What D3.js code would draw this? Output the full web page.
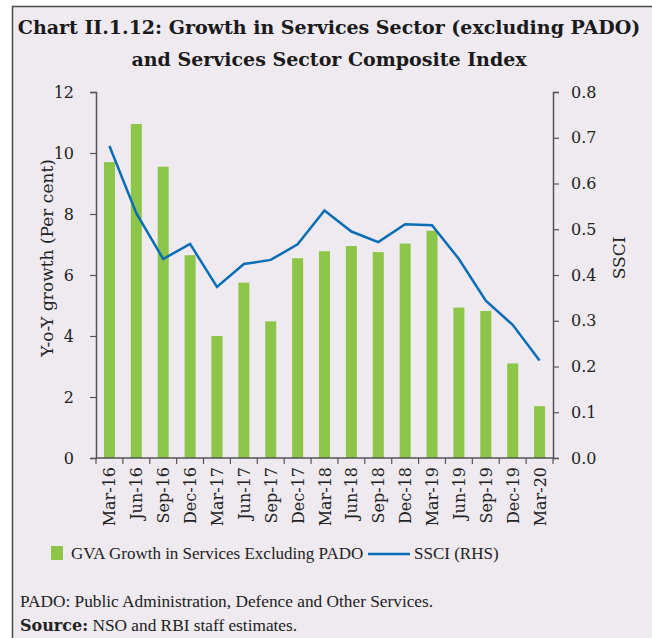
<!DOCTYPE html>
<html>
<head>
<meta charset="utf-8">
<script src="https://cdn.jsdelivr.net/npm/d3@7"></script>
<style>
  body { margin: 0; background: #fff; }
  svg { display: block; }
</style>
</head>
<body>
<script>
// quarters on the x axis
var quarters = ["Mar-16","Jun-16","Sep-16","Dec-16","Mar-17","Jun-17","Sep-17","Dec-17",
                "Mar-18","Jun-18","Sep-18","Dec-18","Mar-19","Jun-19","Sep-19","Dec-19","Mar-20"];
// GVA growth in services excl. PADO (per cent, LHS)
var gvaGrowth = [9.7, 10.95, 9.55, 6.65, 4.0, 5.75, 4.48, 6.55, 6.78, 6.95, 6.75, 7.03, 7.45, 4.93, 4.82, 3.1, 1.7];
// services sector composite index (RHS)
var ssci = [0.682, 0.535, 0.435, 0.468, 0.374, 0.424, 0.433, 0.467, 0.541, 0.495, 0.472, 0.511, 0.509, 0.435, 0.344, 0.291, 0.213];
var leftTicks = [0, 2, 4, 6, 8, 10, 12];
var rightTicks = [0, 0.1, 0.2, 0.3, 0.4, 0.5, 0.6, 0.7, 0.8];

var width = 652, height = 638;
var m = {left: 96, right: 553, top: 92, bottom: 458};
var serif = "'DejaVu Serif', serif";
var times = "'Liberation Serif', serif";

var svg = d3.select("body").append("svg")
  .attr("width", width).attr("height", height);

// panel
svg.append("rect")
  .attr("x", 12.5).attr("y", 6.5)
  .attr("width", width).attr("height", height)
  .attr("fill", "#eeeaf0")
  .attr("stroke", "#4a4a4a").attr("stroke-width", 1.5);

// title
svg.append("text").attr("x", 329).attr("y", 34)
  .attr("text-anchor", "middle")
  .style("font", "bold 19px " + serif).attr("fill", "#1a1a1a")
  .text("Chart II.1.12: Growth in Services Sector (excluding PADO)");
svg.append("text").attr("x", 329).attr("y", 66)
  .attr("text-anchor", "middle")
  .style("font", "bold 19px " + serif).attr("fill", "#1a1a1a")
  .text("and Services Sector Composite Index");

var xb = d3.scaleBand().domain(quarters).range([m.left, m.right]);
var y = d3.scaleLinear().domain([0, 12]).range([m.bottom, m.top]);
var y2 = d3.scaleLinear().domain([0, 0.8]).range([m.bottom, m.top]);

// bars
svg.append("g").selectAll("rect").data(gvaGrowth).enter().append("rect")
  .attr("x", function(d, i) { return xb(quarters[i]) + xb.bandwidth() / 2 - 5.5; })
  .attr("width", 11)
  .attr("y", function(d) { return y(d); })
  .attr("height", function(d) { return y(0) - y(d); })
  .attr("fill", "#8dc549");

// line
var line = d3.line()
  .x(function(d, i) { return xb(quarters[i]) + xb.bandwidth() / 2; })
  .y(function(d) { return y2(d); });
svg.append("path").datum(ssci)
  .attr("d", line)
  .attr("fill", "none")
  .attr("stroke", "#0a6db5")
  .attr("stroke-width", 2.5)
  .attr("stroke-linejoin", "miter");

// axes
var axisColor = "#555";
var gl = svg.append("g").attr("transform", "translate(" + m.left + ",0)")
  .call(d3.axisLeft(y).tickValues(leftTicks).tickSizeOuter(0).tickSize(6).tickPadding(16));
var gr = svg.append("g").attr("transform", "translate(" + m.right + ",0)")
  .call(d3.axisRight(y2).tickValues(rightTicks).tickFormat(d3.format(".1f")).tickSizeOuter(0).tickSize(6).tickPadding(12));

// x axis: ticks at band boundaries
var gx = svg.append("g").attr("transform", "translate(0," + m.bottom + ")");
gx.append("line").attr("x1", m.left).attr("x2", m.right).attr("stroke", axisColor).attr("stroke-width", 1.5);
var bounds = quarters.map(function(q) { return xb(q); }).concat([m.right]);
gx.selectAll("line.tk").data(bounds).enter().append("line")
  .attr("class", "tk")
  .attr("x1", function(d) { return d; }).attr("x2", function(d) { return d; })
  .attr("y1", 0).attr("y2", 6)
  .attr("stroke", axisColor).attr("stroke-width", 1.2);
gx.selectAll("text").data(quarters).enter().append("text")
  .attr("transform", function(d) {
    return "translate(" + (xb(d) + xb.bandwidth() / 2 + 6) + ",9) rotate(-90)";
  })
  .attr("text-anchor", "end")
  .style("font", "16px " + serif).attr("fill", "#222")
  .text(function(d) { return d; });

[gl, gr].forEach(function(g) {
  g.select(".domain").attr("stroke", axisColor).attr("stroke-width", 1.5);
  g.selectAll(".tick line").attr("stroke", axisColor).attr("stroke-width", 1.2);
  g.selectAll(".tick text").style("font", "16px " + serif).attr("fill", "#222");
});

// axis titles
svg.append("text")
  .attr("transform", "translate(53,258) rotate(-90)")
  .attr("text-anchor", "middle")
  .style("font", "17px " + serif).attr("fill", "#222")
  .text("Y-o-Y growth (Per cent)");
svg.append("text")
  .attr("transform", "translate(625,258) rotate(-90)")
  .attr("text-anchor", "middle")
  .style("font", "17px " + serif).attr("fill", "#222")
  .text("SSCI");

// legend
var lg = svg.append("g");
lg.append("rect").attr("x", 51).attr("y", 546).attr("width", 12).attr("height", 14).attr("fill", "#8dc549");
lg.append("text").attr("x", 71).attr("y", 559)
  .style("font", "17px " + times).attr("fill", "#222")
  .text("GVA Growth in Services Excluding PADO");
lg.append("line").attr("x1", 368).attr("x2", 410).attr("y1", 554).attr("y2", 554)
  .attr("stroke", "#0a6db5").attr("stroke-width", 2.5);
lg.append("text").attr("x", 414).attr("y", 559)
  .style("font", "17px " + times).attr("fill", "#222")
  .text("SSCI (RHS)");

// notes
svg.append("text").attr("x", 20).attr("y", 607)
  .style("font", "17.3px " + times).attr("fill", "#222")
  .text("PADO: Public Administration, Defence and Other Services.");
var src = svg.append("text").attr("x", 20).attr("y", 631)
  .style("font", "17.3px " + times).attr("fill", "#222");
src.append("tspan").style("font-weight", "bold").style("font-family", serif).style("font-size", "16px").text("Source:");
src.append("tspan").text(" NSO and RBI staff estimates.");
</script>
</body>
</html>
